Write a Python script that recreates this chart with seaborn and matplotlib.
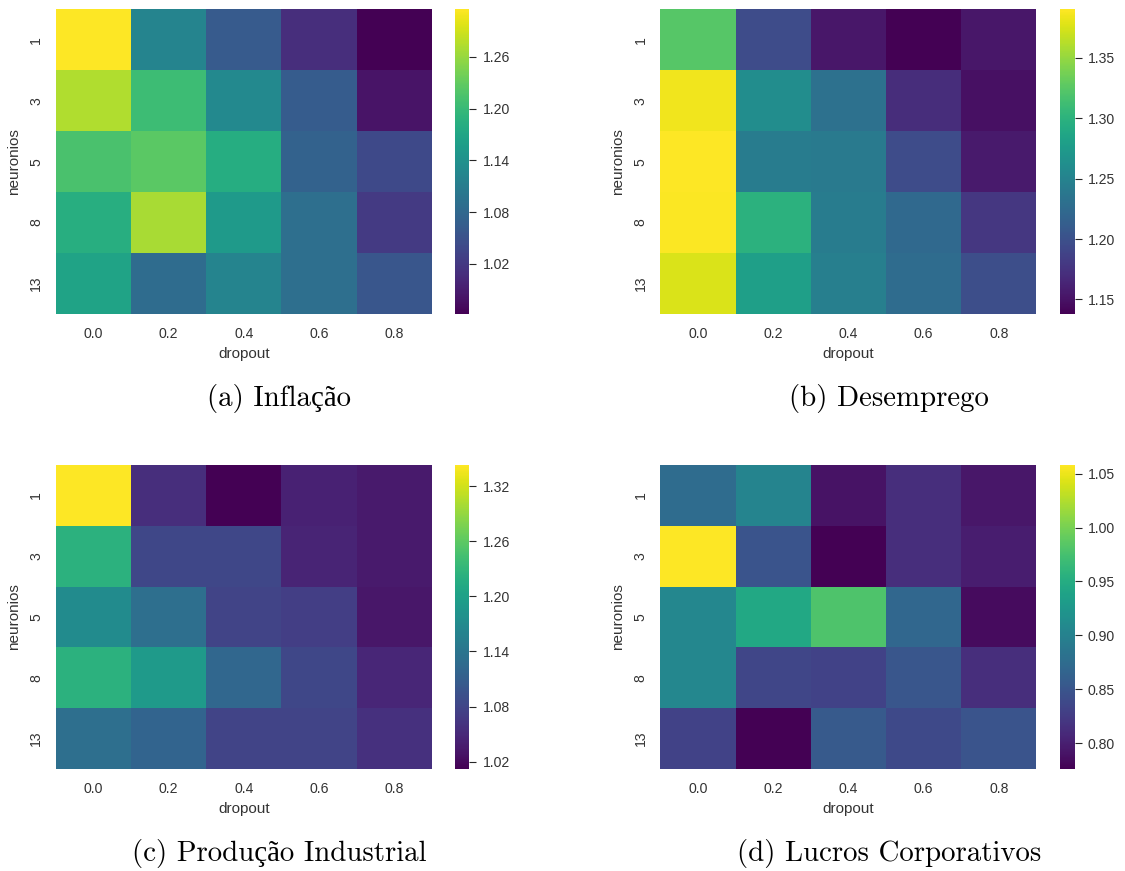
import numpy as np
import pandas as pd
import matplotlib
matplotlib.use("Agg")
import matplotlib.pyplot as plt
import seaborn as sns

# Grid search results: mean error per (neurons, dropout) combination
neuronios = [1, 3, 5, 8, 13]
dropout = [0.0, 0.2, 0.4, 0.6, 0.8]

inflacao = [
    [1.315, 1.121, 1.062, 1.008, 0.962],
    [1.273, 1.204, 1.128, 1.064, 0.980],
    [1.213, 1.224, 1.181, 1.071, 1.040],
    [1.184, 1.269, 1.153, 1.089, 1.022],
    [1.167, 1.086, 1.121, 1.089, 1.057],
]
desemprego = [
    [1.324, 1.196, 1.153, 1.138, 1.153],
    [1.385, 1.261, 1.231, 1.170, 1.148],
    [1.390, 1.243, 1.241, 1.196, 1.155],
    [1.389, 1.299, 1.243, 1.223, 1.178],
    [1.376, 1.279, 1.246, 1.226, 1.198],
]
producao = [
    [1.343, 1.055, 1.012, 1.042, 1.035],
    [1.224, 1.082, 1.082, 1.045, 1.035],
    [1.171, 1.131, 1.078, 1.072, 1.032],
    [1.224, 1.191, 1.121, 1.082, 1.048],
    [1.131, 1.118, 1.078, 1.078, 1.058],
]
lucros = [
    [0.875, 0.903, 0.790, 0.813, 0.793],
    [1.058, 0.849, 0.776, 0.813, 0.799],
    [0.906, 0.945, 0.979, 0.869, 0.784],
    [0.906, 0.835, 0.832, 0.852, 0.813],
    [0.832, 0.776, 0.855, 0.838, 0.849],
]

ticks_a = [1.02, 1.08, 1.14, 1.20, 1.26]
ticks_b = [1.15, 1.20, 1.25, 1.30, 1.35]
ticks_c = [1.02, 1.08, 1.14, 1.20, 1.26, 1.32]
ticks_d = [0.80, 0.85, 0.90, 0.95, 1.00, 1.05]

legendas = ["(a) Inflação", "(b) Desemprego",
            "(c) Produção Industrial", "(d) Lucros Corporativos"]

sns.set_theme(style="white")
plt.rcParams["font.family"] = ["Liberation Sans", "DejaVu Sans"]
plt.rcParams["text.color"] = ".2"
plt.rcParams["axes.labelcolor"] = ".2"
plt.rcParams["xtick.color"] = ".2"
plt.rcParams["ytick.color"] = ".2"

W, H = 1125, 871
fig = plt.figure(figsize=(W / 100, H / 100), dpi=100)


def rect(x0, y0, x1, y1):
    return [x0 / W, 1 - y1 / H, (x1 - x0) / W, (y1 - y0) / H]


paineis = [
    (inflacao, ticks_a, (55.7, 9.3, 431.7, 314.0), (455.3, 469.3), (279, 405.5)),
    (desemprego, ticks_b, (660.3, 9.3, 1036.3, 314.0), (1060.3, 1074.5), (889, 405.5)),
    (producao, ticks_c, (55.7, 465.0, 431.7, 769.0), (455.3, 469.3), (279, 860.7)),
    (lucros, ticks_d, (660.3, 465.0, 1036.3, 769.0), (1060.3, 1074.5), (889, 860.7)),
]

for (valores, cticks, (x0, y0, x1, y1), (cx0, cx1), (tx, ty)), legenda in zip(paineis, legendas):
    ax = fig.add_axes(rect(x0, y0, x1, y1))
    cax = fig.add_axes(rect(cx0, y0, cx1, y1))
    df = pd.DataFrame(valores, index=neuronios, columns=dropout)
    sns.heatmap(df, ax=ax, cbar_ax=cax, cmap="viridis",
                cbar_kws={"ticks": cticks})
    ax.set_xlabel("dropout", fontsize=11, labelpad=5)
    ax.set_ylabel("neuronios", fontsize=11, labelpad=6)
    ax.set_xticklabels([f"{d:.1f}" for d in dropout], rotation=0)
    ax.set_yticklabels([str(n) for n in neuronios], rotation=90, va="center")
    ax.tick_params(axis="both", length=0, pad=9, labelsize=10.1)
    cax.yaxis.set_major_formatter(matplotlib.ticker.FormatStrFormatter("%.2f"))
    cax.tick_params(axis="y", right=True, length=5, width=0.8, color=".15",
                    pad=4.5, labelsize=10.1)
    for s in cax.spines.values():
        s.set_visible(False)
    fig.text(tx / W, 1 - ty / H, legenda, ha="center", va="baseline",
             fontsize=20.8, color="black",
             family=["cmr10", "Liberation Serif"])

fig.savefig("out.png", dpi=100, facecolor="white")
